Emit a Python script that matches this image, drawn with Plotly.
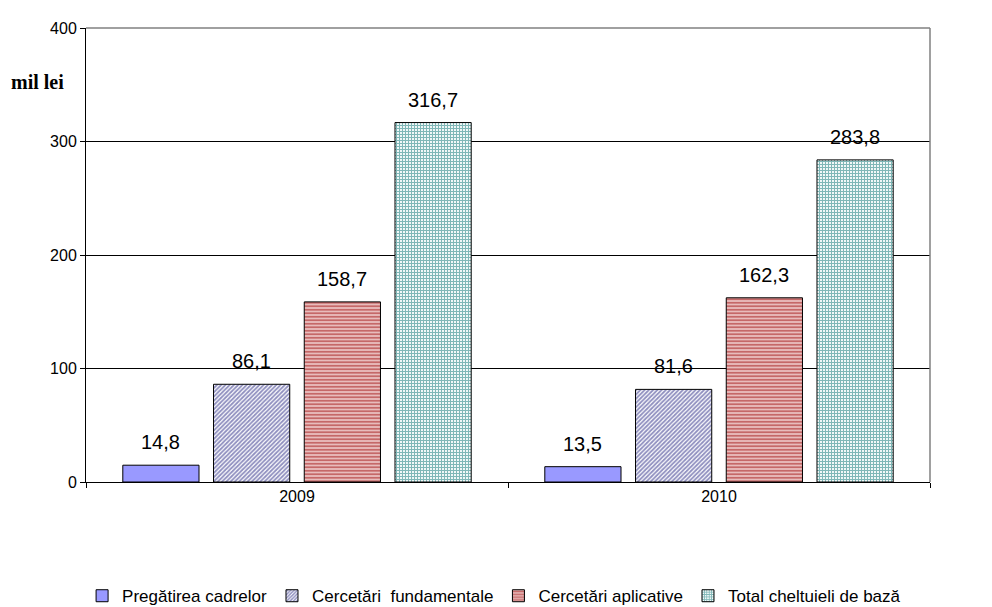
import plotly.graph_objects as go

years = ["2009", "2010"]
series_names = ["Pregătirea cadrelor", "Cercetări  fundamentale",
                "Cercetări aplicative", "Total cheltuieli de bază"]
values = [
    [14.8, 13.5],
    [86.1, 81.6],
    [158.7, 162.3],
    [316.7, 283.8],
]
value_labels = [
    ["14,8", "13,5"],
    ["86,1", "81,6"],
    ["158,7", "162,3"],
    ["316,7", "283,8"],
]
y_ticks = [0, 100, 200, 300, 400]

# bar styling per series
styles = [
    dict(color="#9999FF", pattern=dict(shape="")),
    dict(color="white", pattern=dict(shape="/", fgcolor="#1f1f80", bgcolor="white",
                                     size=3, solidity=0.6, fillmode="overlay")),
    dict(color="white", pattern=dict(shape="-", fgcolor="#990000", bgcolor="#f0d0d0",
                                     size=3.5, solidity=0.6, fillmode="overlay")),
    dict(color="white", pattern=dict(shape="+", fgcolor="#007070", bgcolor="white",
                                     size=3, solidity=0.65, fillmode="overlay")),
]

BARGAP = 0.14
GROUPGAP = 0.16

fig = go.Figure()
for name, vals, st in zip(series_names, values, styles):
    fig.add_trace(go.Bar(
        x=years, y=vals, name=name,
        marker=dict(color=st["color"], pattern=st["pattern"],
                    line=dict(color="black", width=1)),
    ))

# value labels above bars
slot = (1 - BARGAP) / len(series_names)
for i, (vals, labs) in enumerate(zip(values, value_labels)):
    for j, (v, lab) in enumerate(zip(vals, labs)):
        fig.add_annotation(
            x=j + (i - 1.5) * slot, y=v, xref="x", yref="y",
            text=lab, showarrow=False, yanchor="bottom", yshift=10,
            font=dict(family="Liberation Sans, Arial", size=20, color="black"),
        )

fig.add_annotation(
    x=-0.057, y=0.88, xref="paper", yref="paper", text="<b>mil lei</b>",
    showarrow=False, xanchor="center", yanchor="middle",
    font=dict(family="Liberation Serif, Times New Roman", size=20, color="black"),
)

# gray frame on top and right
fig.add_shape(type="line", xref="paper", yref="paper", x0=0, x1=1, y0=1, y1=1,
              line=dict(color="#808080", width=1.5), layer="above")
fig.add_shape(type="line", xref="paper", yref="paper", x0=1, x1=1, y0=0, y1=1,
              line=dict(color="#808080", width=1.5), layer="above")

# page body adds an 8px offset, margins account for it
fig.update_layout(
    width=992, height=607,
    barmode="group", bargap=BARGAP, bargroupgap=GROUPGAP,
    plot_bgcolor="white", paper_bgcolor="white",
    margin=dict(l=78, r=70, t=13, b=133),
    font=dict(family="Liberation Sans, Arial", size=16, color="black"),
    showlegend=True,
    legend=dict(orientation="h", xref="container", yref="container",
                x=0.49, xanchor="center", y=0.031, yanchor="middle",
                font=dict(size=17), itemwidth=30, tracegroupgap=0),
    xaxis=dict(showline=True, linecolor="black", linewidth=1, ticks="outside",
               tickson="boundaries", ticklen=5, tickcolor="black",
               tickfont=dict(size=16), showgrid=False),
    yaxis=dict(range=[0, 400], tickvals=y_ticks, showline=True, linecolor="black",
               linewidth=1, ticks="outside", ticklen=5, tickcolor="black",
               showgrid=True, gridcolor="black", gridwidth=1, zeroline=False,
               tickfont=dict(size=16)),
)

fig.write_html("out.html")
